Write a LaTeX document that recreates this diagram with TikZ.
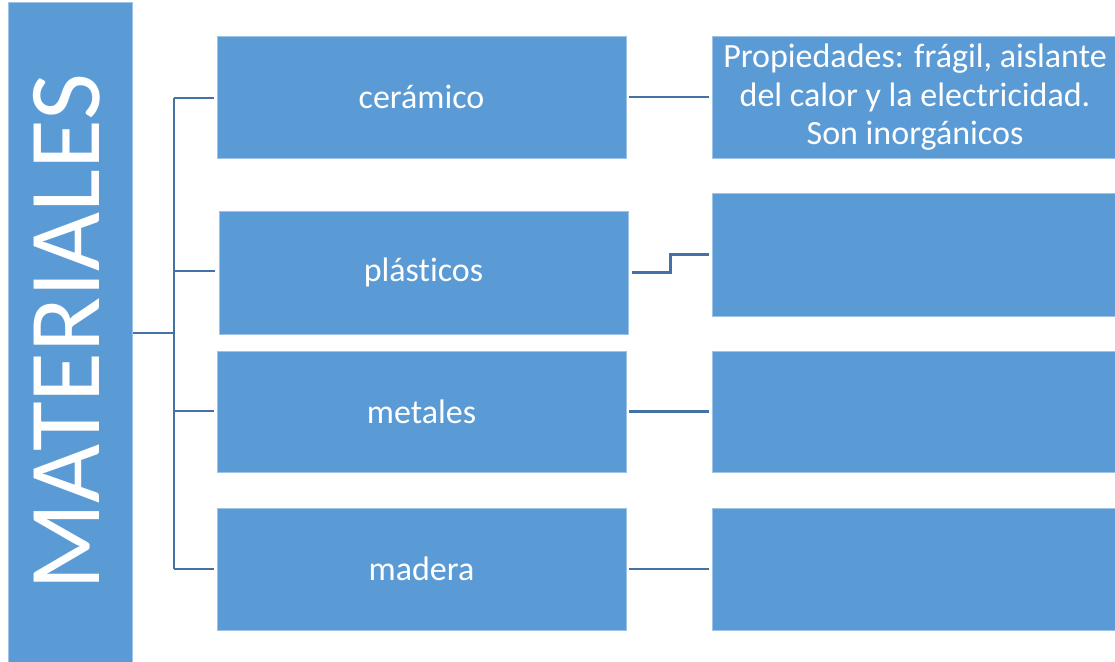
\documentclass[tikz,border=0pt]{standalone}
\usepackage{fontspec}
\setmainfont[Ligatures={NoCommon}]{Carlito}
\definecolor{boxblue}{HTML}{5B9BD5}
\definecolor{edgeblue}{HTML}{9DC3E6}
\definecolor{linkblue}{RGB}{68,114,164}
\begin{document}
\begin{tikzpicture}[x=1pt,y=-1pt,
  mbox/.style={fill=boxblue,draw=edgeblue,line width=0.8pt,inner sep=0pt,text=white,
    font=\fontsize{34}{37}\selectfont,align=center},
  link/.style={draw=linkblue,line width=2.6pt}]
\useasboundingbox (0,0) rectangle (1115,661);
% title box
\node[fill=boxblue,draw=edgeblue,line width=0.8pt,minimum width=124pt,minimum height=664pt,inner sep=0pt] (mat) at (70,334) {};
\node[rotate=90,anchor=base,inner sep=0pt,text=white,font=\fontsize{102}{110}\selectfont] (matt) at (99,332) {MATERIALES};
% left boxes
\node[mbox,minimum width=409pt,minimum height=122pt] (cer) at (421.5,97) {cerámico};
\node[mbox,minimum width=409pt,minimum height=123pt] (pla) at (423.5,272.5) {plásticos};
\node[mbox,minimum width=409pt,minimum height=121pt] (met) at (421.5,411.5) {metales};
\node[mbox,minimum width=409pt,minimum height=122pt] (mad) at (421.5,569) {madera};
% right boxes
\node[mbox,minimum width=406pt,minimum height=122pt,font=\fontsize{34}{38.5}\selectfont] (cerr) at (915,97.5) {Propiedades: frágil, aislante\\del calor y la electricidad.\\Son inorgánicos};
\node[mbox,minimum width=406pt,minimum height=123pt] (plar) at (915,254.5) {};
\node[mbox,minimum width=406pt,minimum height=121pt] (metr) at (915,411.5) {};
\node[mbox,minimum width=406pt,minimum height=122pt] (madr) at (915,569) {};
% connectors
\coordinate (tj) at (174,333);
\coordinate (ttop) at (174,98);
\coordinate (tbot) at (174,569);
\draw[link,shorten <=1pt] (mat.east |- tj) -- (tj);
\draw[link] (ttop) -- (tbot);
\draw[link,shorten >=3pt] (ttop) -- (cer.west |- ttop);
\draw[link,shorten >=4pt] (174,271) -- (pla.west |- 0,271);
\draw[link,shorten >=3pt] (174,411) -- (met.west |- 0,411);
\draw[link,shorten >=3pt] (tbot) -- (mad.west |- tbot);
\draw[link,shorten <=3pt,shorten >=3pt] (cer.east) -- (cerr.west |- cer.east);
\draw[link,shorten <=4pt,shorten >=3pt] (pla.east) -- ++(42,0) |- (plar.west);
\draw[link,shorten <=3pt,shorten >=3pt] (met.east) -- (metr.west);
\draw[link,shorten <=3pt,shorten >=3pt] (mad.east) -- (madr.west);
\end{tikzpicture}
\end{document}
